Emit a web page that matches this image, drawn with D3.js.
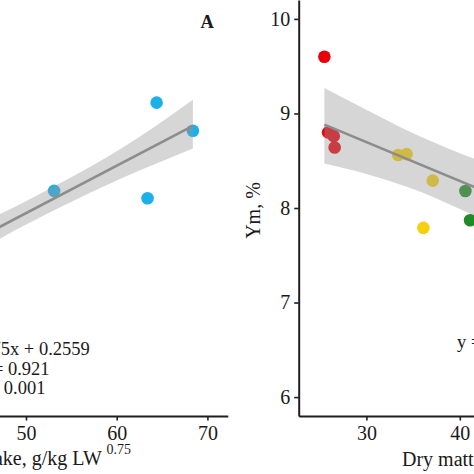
<!DOCTYPE html>
<html>
<head>
<meta charset="utf-8">
<script src="https://cdn.jsdelivr.net/npm/d3@7"></script>
<style>
  html, body { margin: 0; padding: 0; background: #fff; }
  svg { display: block; }
  text { font-family: "Liberation Serif", "Times New Roman", serif; fill: #1a1a1a; }
</style>
</head>
<body>
<script>
// ---------------- DATA ----------------
// Panel A (left): intake vs. response (cyan points)
const leftX = [53.1, 63.4, 64.4, 68.4];
const leftY = [1.213, 1.186, 1.539, 1.435];
const leftLineX = [40, 68.4];
const leftLineY = [0.956, 1.453];
const leftBandX  = [40, 47.13, 54, 60.36, 68.4];
const leftBandLo = [0.886, 1.036, 1.156, 1.257, 1.370];
const leftBandHi = [1.026, 1.128, 1.246, 1.367, 1.550];
const leftTicksX = [40, 50, 60, 70];
const leftEquation = ["y = 0.0175x + 0.2559", "R\u00B2 = 0.921", "P < 0.001"];

// Panel B (right): dry matter intake vs Ym, %
const rightX = [25.5, 25.9, 26.5, 26.6, 33.4, 34.3, 37.1, 36.1, 40.6, 41.1];
const rightY = [9.60, 8.80, 8.76, 8.64, 8.56, 8.57, 8.29, 7.79, 8.18, 7.87];
const rightGroup = ["red", "red", "red", "red", "yellow", "yellow", "yellow", "yellow", "green", "green"];
const rightLineX = [25.5, 50];
const rightLineY = [8.882, 7.876];
const rightBandX  = [25.5, 30, 35, 40, 45, 50];
const rightBandLo = [8.47, 8.36, 8.20, 7.99, 7.76, 7.52];
const rightBandHi = [9.27, 9.04, 8.79, 8.58, 8.40, 8.23];
const rightTicksX = [30, 40, 50];
const rightTicksY = [6, 7, 8, 9, 10];
const rightEquation = "y = -0.0411x + 9.9281";

const groupColors = { red: "#e8000b", yellow: "#f6cf10", green: "#1f8b26", cyan: "#1cb0e8" };
const xLabelMain = "Dry matter intake, g/kg LW ";
const xLabelSup = "0.75";
const yLabelRight = "Ym, %";
const panelLetter = "A";

// ---------------- LAYOUT ----------------
const W = 474, H = 474;
const svg = d3.select("body").append("svg").attr("width", W).attr("height", H);

const plotBottom = 416, plotTop = 0;
const axisColor = "#1f1f1f";
const fontSize = 20;
const eqSize = 18.5;

// scales
const xL = d3.scaleLinear().domain([38, 72.25]).range([26 - 12 * 9.07, 26 + 22.25 * 9.07]);
const yL = d3.scaleLinear().domain([0.3817, 1.918]).range([plotBottom, plotTop]);
const xR = d3.scaleLinear().domain([22.75, 52]).range([298.7, 298.7 + 29.25 * 9.34]);
const yR = d3.scaleLinear().domain([5.8, 10.2]).range([plotBottom, plotTop]);

function styleAxis(g) {
  g.select(".domain").attr("stroke", axisColor).attr("stroke-width", 2);
  g.selectAll(".tick line").attr("stroke", axisColor).attr("stroke-width", 1.6);
  g.selectAll(".tick text")
    .attr("font-family", '"Liberation Serif", "Times New Roman", serif')
    .attr("font-size", fontSize)
    .attr("fill", "#1a1a1a");
}

function drawPanel(opts) {
  const g = svg.append("g");
  // points first (band drawn over them, like ggplot geom_smooth)
  g.selectAll("circle").data(opts.px.map((x, i) => ({ x, y: opts.py[i], c: opts.pc[i] })))
    .join("circle")
    .attr("cx", d => opts.xs(d.x))
    .attr("cy", d => opts.ys(d.y))
    .attr("r", 6.3)
    .attr("fill", d => groupColors[d.c]);
  // confidence band
  const area = d3.area()
    .x(d => opts.xs(d.x))
    .y0(d => opts.ys(d.lo))
    .y1(d => opts.ys(d.hi))
    .curve(d3.curveMonotoneX);
  g.append("path")
    .datum(opts.bx.map((x, i) => ({ x, lo: opts.blo[i], hi: opts.bhi[i] })))
    .attr("d", area)
    .attr("fill", "#999999")
    .attr("fill-opacity", 0.4);
  // fit line
  const line = d3.line().x(d => opts.xs(d.x)).y(d => opts.ys(d.y));
  g.append("path")
    .datum(opts.lx.map((x, i) => ({ x, y: opts.ly[i] })))
    .attr("d", line)
    .attr("fill", "none")
    .attr("stroke", "#8c8c8c")
    .attr("stroke-width", 2.6);
  return g;
}

// ---------- Left panel (A) ----------
drawPanel({
  xs: xL, ys: yL,
  px: leftX, py: leftY, pc: leftX.map(() => "cyan"),
  bx: leftBandX, blo: leftBandLo, bhi: leftBandHi,
  lx: leftLineX, ly: leftLineY
});

const axL = svg.append("g")
  .attr("transform", `translate(0,${plotBottom})`)
  .call(d3.axisBottom(xL).tickValues(leftTicksX).tickFormat(d3.format("d"))
    .tickSize(4.5).tickSizeOuter(0).tickPadding(5));
styleAxis(axL);

// panel letter
svg.append("text")
  .attr("x", 207.3).attr("y", 28.3)
  .attr("text-anchor", "middle")
  .attr("font-size", 18.5)
  .attr("font-weight", "bold")
  .text(panelLetter);

// equation (left)
const eqBase = [355, 375, 393.5];
leftEquation.forEach((t, i) => {
  svg.append("text")
    .attr("x", 10).attr("y", eqBase[i])
    .attr("text-anchor", "middle")
    .attr("font-size", eqSize)
    .text(t);
});

// x label (left)
const lblL = svg.append("text")
  .attr("x", 131).attr("y", 465)
  .attr("text-anchor", "end")
  .attr("font-size", fontSize);
lblL.append("tspan").text(xLabelMain);
lblL.append("tspan").attr("dy", -11).attr("font-size", 14).text(xLabelSup);

// ---------- Right panel ----------
drawPanel({
  xs: xR, ys: yR,
  px: rightX, py: rightY, pc: rightGroup,
  bx: rightBandX, blo: rightBandLo, bhi: rightBandHi,
  lx: rightLineX, ly: rightLineY
});

const axRx = svg.append("g")
  .attr("transform", `translate(0,${plotBottom})`)
  .call(d3.axisBottom(xR).tickValues(rightTicksX).tickFormat(d3.format("d"))
    .tickSize(4.5).tickSizeOuter(0).tickPadding(5));
styleAxis(axRx);

const axRy = svg.append("g")
  .attr("transform", `translate(${xR(22.75)},0)`)
  .call(d3.axisLeft(yR).tickValues(rightTicksY).tickFormat(d3.format("d"))
    .tickSize(4.5).tickSizeOuter(0).tickPadding(4));
styleAxis(axRy);

// y label (right)
svg.append("text")
  .attr("transform", `translate(260,210.5) rotate(-90)`)
  .attr("text-anchor", "middle")
  .attr("font-size", fontSize)
  .text(yLabelRight);

// equation (right)
svg.append("text")
  .attr("x", 457).attr("y", 348)
  .attr("text-anchor", "start")
  .attr("font-size", eqSize)
  .text(rightEquation);

// x label (right)
const lblR = svg.append("text")
  .attr("x", 402).attr("y", 466)
  .attr("text-anchor", "start")
  .attr("font-size", fontSize);
lblR.append("tspan").text(xLabelMain);
lblR.append("tspan").attr("dy", -11).attr("font-size", 14).text(xLabelSup);
</script>
</body>
</html>
